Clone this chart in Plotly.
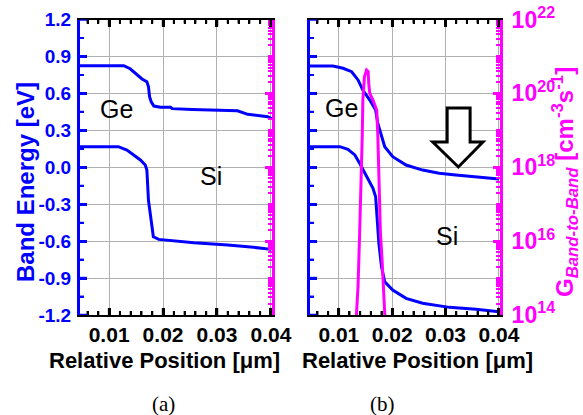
import math
import plotly.graph_objects as go

# ---------------- data ----------------
pos_a_upper = [0.0046, 0.0127, 0.0139, 0.0152, 0.0161, 0.0170, 0.0173, 0.0175, 0.0178, 0.0183,
               0.0195, 0.0214, 0.0217, 0.0254, 0.0300, 0.0338, 0.0357, 0.0394, 0.0401]
e_a_upper = [0.825, 0.825, 0.80, 0.75, 0.717, 0.695, 0.654, 0.573, 0.532, 0.497,
             0.487, 0.487, 0.476, 0.47, 0.462, 0.459, 0.43, 0.41, 0.395]

pos_a_lower = [0.0046, 0.0117, 0.0133, 0.0146, 0.0158, 0.0167, 0.0170, 0.0173, 0.0176, 0.0179,
               0.0182, 0.0192, 0.0214, 0.0257, 0.0320, 0.0357, 0.0401]
e_a_lower = [0.167, 0.167, 0.14, 0.10, 0.059, 0.018, -0.023, -0.27, -0.37, -0.48,
             -0.565, -0.586, -0.597, -0.613, -0.632, -0.645, -0.667]

pos_b_upper = [0.0046, 0.0089, 0.0108, 0.0124, 0.0136, 0.0145, 0.0158, 0.0169, 0.0173, 0.0178,
               0.0186, 0.0201, 0.0226, 0.0257, 0.0288, 0.0319, 0.0357, 0.0400]
e_b_upper = [0.822, 0.822, 0.804, 0.776, 0.709, 0.627, 0.546, 0.465, 0.357, 0.275,
             0.167, 0.086, 0.018, -0.023, -0.049, -0.063, -0.077, -0.096]

pos_b_lower = [0.0046, 0.0102, 0.0117, 0.0130, 0.0139, 0.0152, 0.0164, 0.0169, 0.0171, 0.0175,
               0.0180, 0.0186, 0.0201, 0.0226, 0.0257, 0.0307, 0.0357, 0.0400]
e_b_lower = [0.167, 0.167, 0.146, 0.10, 0.032, -0.077, -0.171, -0.24, -0.40, -0.618,
             -0.808, -0.93, -0.997, -1.065, -1.105, -1.138, -1.154, -1.174]

pos_g = [0.0131, 0.0133, 0.0136, 0.0139, 0.0142, 0.0144, 0.0145, 0.0148, 0.0152, 0.0155,
         0.0156, 0.0158, 0.0164, 0.0169, 0.0171, 0.0173, 0.0175, 0.0178, 0.0181, 0.0186, 0.0188]
g_btb = [3e13, 1e14, 5.9e14, 1.6e16, 3.0e17, 7.9e18, 6.6e19, 2.8e20, 4.3e20, 3.9e20,
         1.9e20, 1.0e20, 6.6e19, 4.4e19, 3.5e19, 7.9e18, 3.0e17, 1.6e16, 3.2e15, 1e14, 3e13]

x_ticks = [0.01, 0.02, 0.03, 0.04]
x_ticktext = ["0.01", "0.02", "0.03", "0.04"]
x_minor = [round(0.006 + 0.002 * i, 4) for i in range(18)]
y_ticks = [-1.2, -0.9, -0.6, -0.3, 0.0, 0.3, 0.6, 0.9, 1.2]
y_ticktext = ["-1.2", "-0.9", "-0.6", "-0.3", "0.0", "0.3", "0.6", "0.9", "1.2"]
y_minor = [-1.05, -0.75, -0.45, -0.15, 0.15, 0.45, 0.75, 1.05]
g_ticks = [1e14, 1e16, 1e18, 1e20, 1e22]
g_ticktext = ["10<sup>14</sup>", "10<sup>16</sup>", "10<sup>18</sup>", "10<sup>20</sup>",
              "10<sup>22</sup>"]
g_minor = [k * 10.0 ** d for d in range(14, 22) for k in range(2, 11)]

# ---------------- style ----------------
W, H = 583, 415
BLUE = "#0000ff"
MAG = "#ff00ff"
GRID = "#b0b0b0"
SANS = "Liberation Sans, Arial, sans-serif"
SERIF = "Liberation Serif, Times New Roman, serif"

xa_dom = [80 / W, 272 / W]
xb_dom = [310 / W, 500 / W]
y_dom = [1 - 315 / H, 1 - 19.5 / H]
x_range = [0.0046, 0.0402]

fig = go.Figure()
fig.add_trace(go.Scatter(x=pos_a_upper, y=e_a_upper, mode="lines",
                         line=dict(color=BLUE, width=3), xaxis="x", yaxis="y"))
fig.add_trace(go.Scatter(x=pos_a_lower, y=e_a_lower, mode="lines",
                         line=dict(color=BLUE, width=3), xaxis="x", yaxis="y"))
fig.add_trace(go.Scatter(x=pos_b_upper, y=e_b_upper, mode="lines",
                         line=dict(color=BLUE, width=3), xaxis="x2", yaxis="y2"))
fig.add_trace(go.Scatter(x=pos_b_lower, y=e_b_lower, mode="lines",
                         line=dict(color=BLUE, width=3), xaxis="x2", yaxis="y2"))
fig.add_trace(go.Scatter(x=pos_g, y=g_btb, mode="lines",
                         line=dict(color=MAG, width=3), xaxis="x2", yaxis="y4"))


def xaxis(dom, anchor):
    return dict(domain=dom, anchor=anchor, range=x_range, showline=True, linecolor="black",
                linewidth=2, mirror="ticks", ticks="inside", ticklen=7, tickwidth=2.5,
                tickcolor="black", tickmode="array", tickvals=x_ticks, ticktext=x_ticktext,
                tickfont=dict(family=SANS, size=21, color="black", weight="bold"),
                showgrid=True, gridcolor=GRID, zeroline=False,
                minor=dict(ticks="inside", ticklen=4, tickwidth=2, tickcolor="black",
                           tickmode="array", tickvals=x_minor, showgrid=False),
                automargin=False, fixedrange=True)


def yaxis(anchor, labels):
    return dict(domain=y_dom, anchor=anchor, range=[-1.2, 1.2], showline=True,
                linecolor=BLUE, linewidth=3, ticks="inside", ticklen=7, tickwidth=2.5,
                tickcolor=BLUE, tickmode="array", tickvals=y_ticks, ticktext=y_ticktext,
                showticklabels=labels, ticklabelstandoff=2,
                tickfont=dict(family=SANS, size=19, color=BLUE, weight="bold"),
                showgrid=True, gridcolor=GRID, zeroline=False,
                minor=dict(ticks="inside", ticklen=4, tickwidth=2, tickcolor=BLUE,
                           tickmode="array", tickvals=y_minor, showgrid=False),
                automargin=False, fixedrange=True)


def gaxis(over, anchor, labels):
    return dict(overlaying=over, anchor=anchor, side="right", type="log", range=[14, 22],
                showline=True, linecolor=MAG, linewidth=3, ticks="inside", ticklen=7,
                tickwidth=2.5, tickcolor=MAG, tickmode="array", tickvals=g_ticks,
                ticktext=g_ticktext, showticklabels=labels, ticklabelstandoff=4,
                tickfont=dict(family=SANS, size=23, color=MAG, weight="bold"),
                showgrid=False, zeroline=False,
                minor=dict(ticks="inside", ticklen=4, tickwidth=1.5, tickcolor=MAG,
                           tickmode="array", tickvals=g_minor, showgrid=False),
                automargin=False, fixedrange=True)


fig.update_layout(
    width=W, height=H, margin=dict(l=0, r=0, t=0, b=0),
    plot_bgcolor="white", showlegend=False,
    xaxis=xaxis(xa_dom, "y"),
    xaxis2=xaxis(xb_dom, "y2"),
    yaxis=yaxis("x", True),
    yaxis2=yaxis("x2", False),
    yaxis3=gaxis("y", "x", False),
    yaxis4=gaxis("y2", "x2", True),
)

ann = []


def add_text(text, px, py, size, color="black", family=SANS, bold=False, angle=0):
    ann.append(dict(text=text, x=px / W, y=1 - py / H, xref="paper", yref="paper",
                    showarrow=False, textangle=angle, xanchor="center", yanchor="middle",
                    font=dict(family=family, size=size, color=color,
                              weight="bold" if bold else "normal")))


add_text("Ge", 116, 109, 25)
add_text("Si", 211, 176, 25)
add_text("Ge", 341, 108, 25)
add_text("Si", 447, 236, 25)
add_text("Band Energy [eV]", 25, 182, 24, BLUE, bold=True, angle=-90)
add_text("G<sub><i>Band-to-Band</i></sub> [cm<sup>-3</sup>s<sup>-1</sup>]", 565, 182, 24,
         MAG, bold=True, angle=-90)
add_text("Relative Position [\u03bcm]", 164, 360, 22, bold=True)
add_text("Relative Position [\u03bcm]", 417, 360, 22, bold=True)
add_text("(a)", 163, 404, 21, family=SERIF)
add_text("(b)", 382, 404, 21, family=SERIF)
fig.update_layout(annotations=ann)

# ---- inward tick marks, placed through the axes' own scales (pixel-length shapes) ----
shapes = []


def x_tick_marks(xref, ydom, vals, length, width):
    for v in vals:
        for anchor, sign in ((0, 1), (1, -1)):
            shapes.append(dict(type="line", xref=xref, yref=ydom, ysizemode="pixel",
                               yanchor=anchor, x0=v, x1=v, y0=0, y1=sign * length,
                               line=dict(color="black", width=width), layer="above"))


def y_tick_marks(xdom, yref, vals, anchor, length, width, color, log=False):
    sign = 1 if anchor == 0 else -1
    for v in vals:
        yv = math.log10(v) if log else v
        shapes.append(dict(type="line", xref=xdom, yref=yref, xsizemode="pixel",
                           xanchor=anchor, x0=0, x1=sign * length, y0=yv, y1=yv,
                           line=dict(color=color, width=width), layer="above"))


for xr, yd in (("x", "y domain"), ("x2", "y2 domain")):
    x_tick_marks(xr, yd, x_ticks, 7, 2.5)
    x_tick_marks(xr, yd, x_minor, 4, 2)
for xd, yr in (("x domain", "y"), ("x2 domain", "y2")):
    y_tick_marks(xd, yr, y_ticks, 0, 7, 2.5, BLUE)
    y_tick_marks(xd, yr, y_minor, 0, 4, 2, BLUE)
for xd, yr in (("x domain", "y3"), ("x2 domain", "y4")):
    y_tick_marks(xd, yr, g_ticks, 1, 7, 2.5, MAG, log=True)
    y_tick_marks(xd, yr, g_minor, 1, 4, 1.5, MAG, log=True)

# hollow down arrow in panel (b)
arrow = ("M 0.0303 0.481 L 0.0346 0.481 L 0.0346 0.205 L 0.0370 0.205 "
         "L 0.0324 0.002 L 0.0276 0.205 L 0.0303 0.205 Z")
shapes.append(dict(type="path", path=arrow, xref="x2", yref="y2",
                   line=dict(color="black", width=3), fillcolor="white", layer="above"))
fig.update_layout(shapes=shapes)

fig.write_html("out.html")
